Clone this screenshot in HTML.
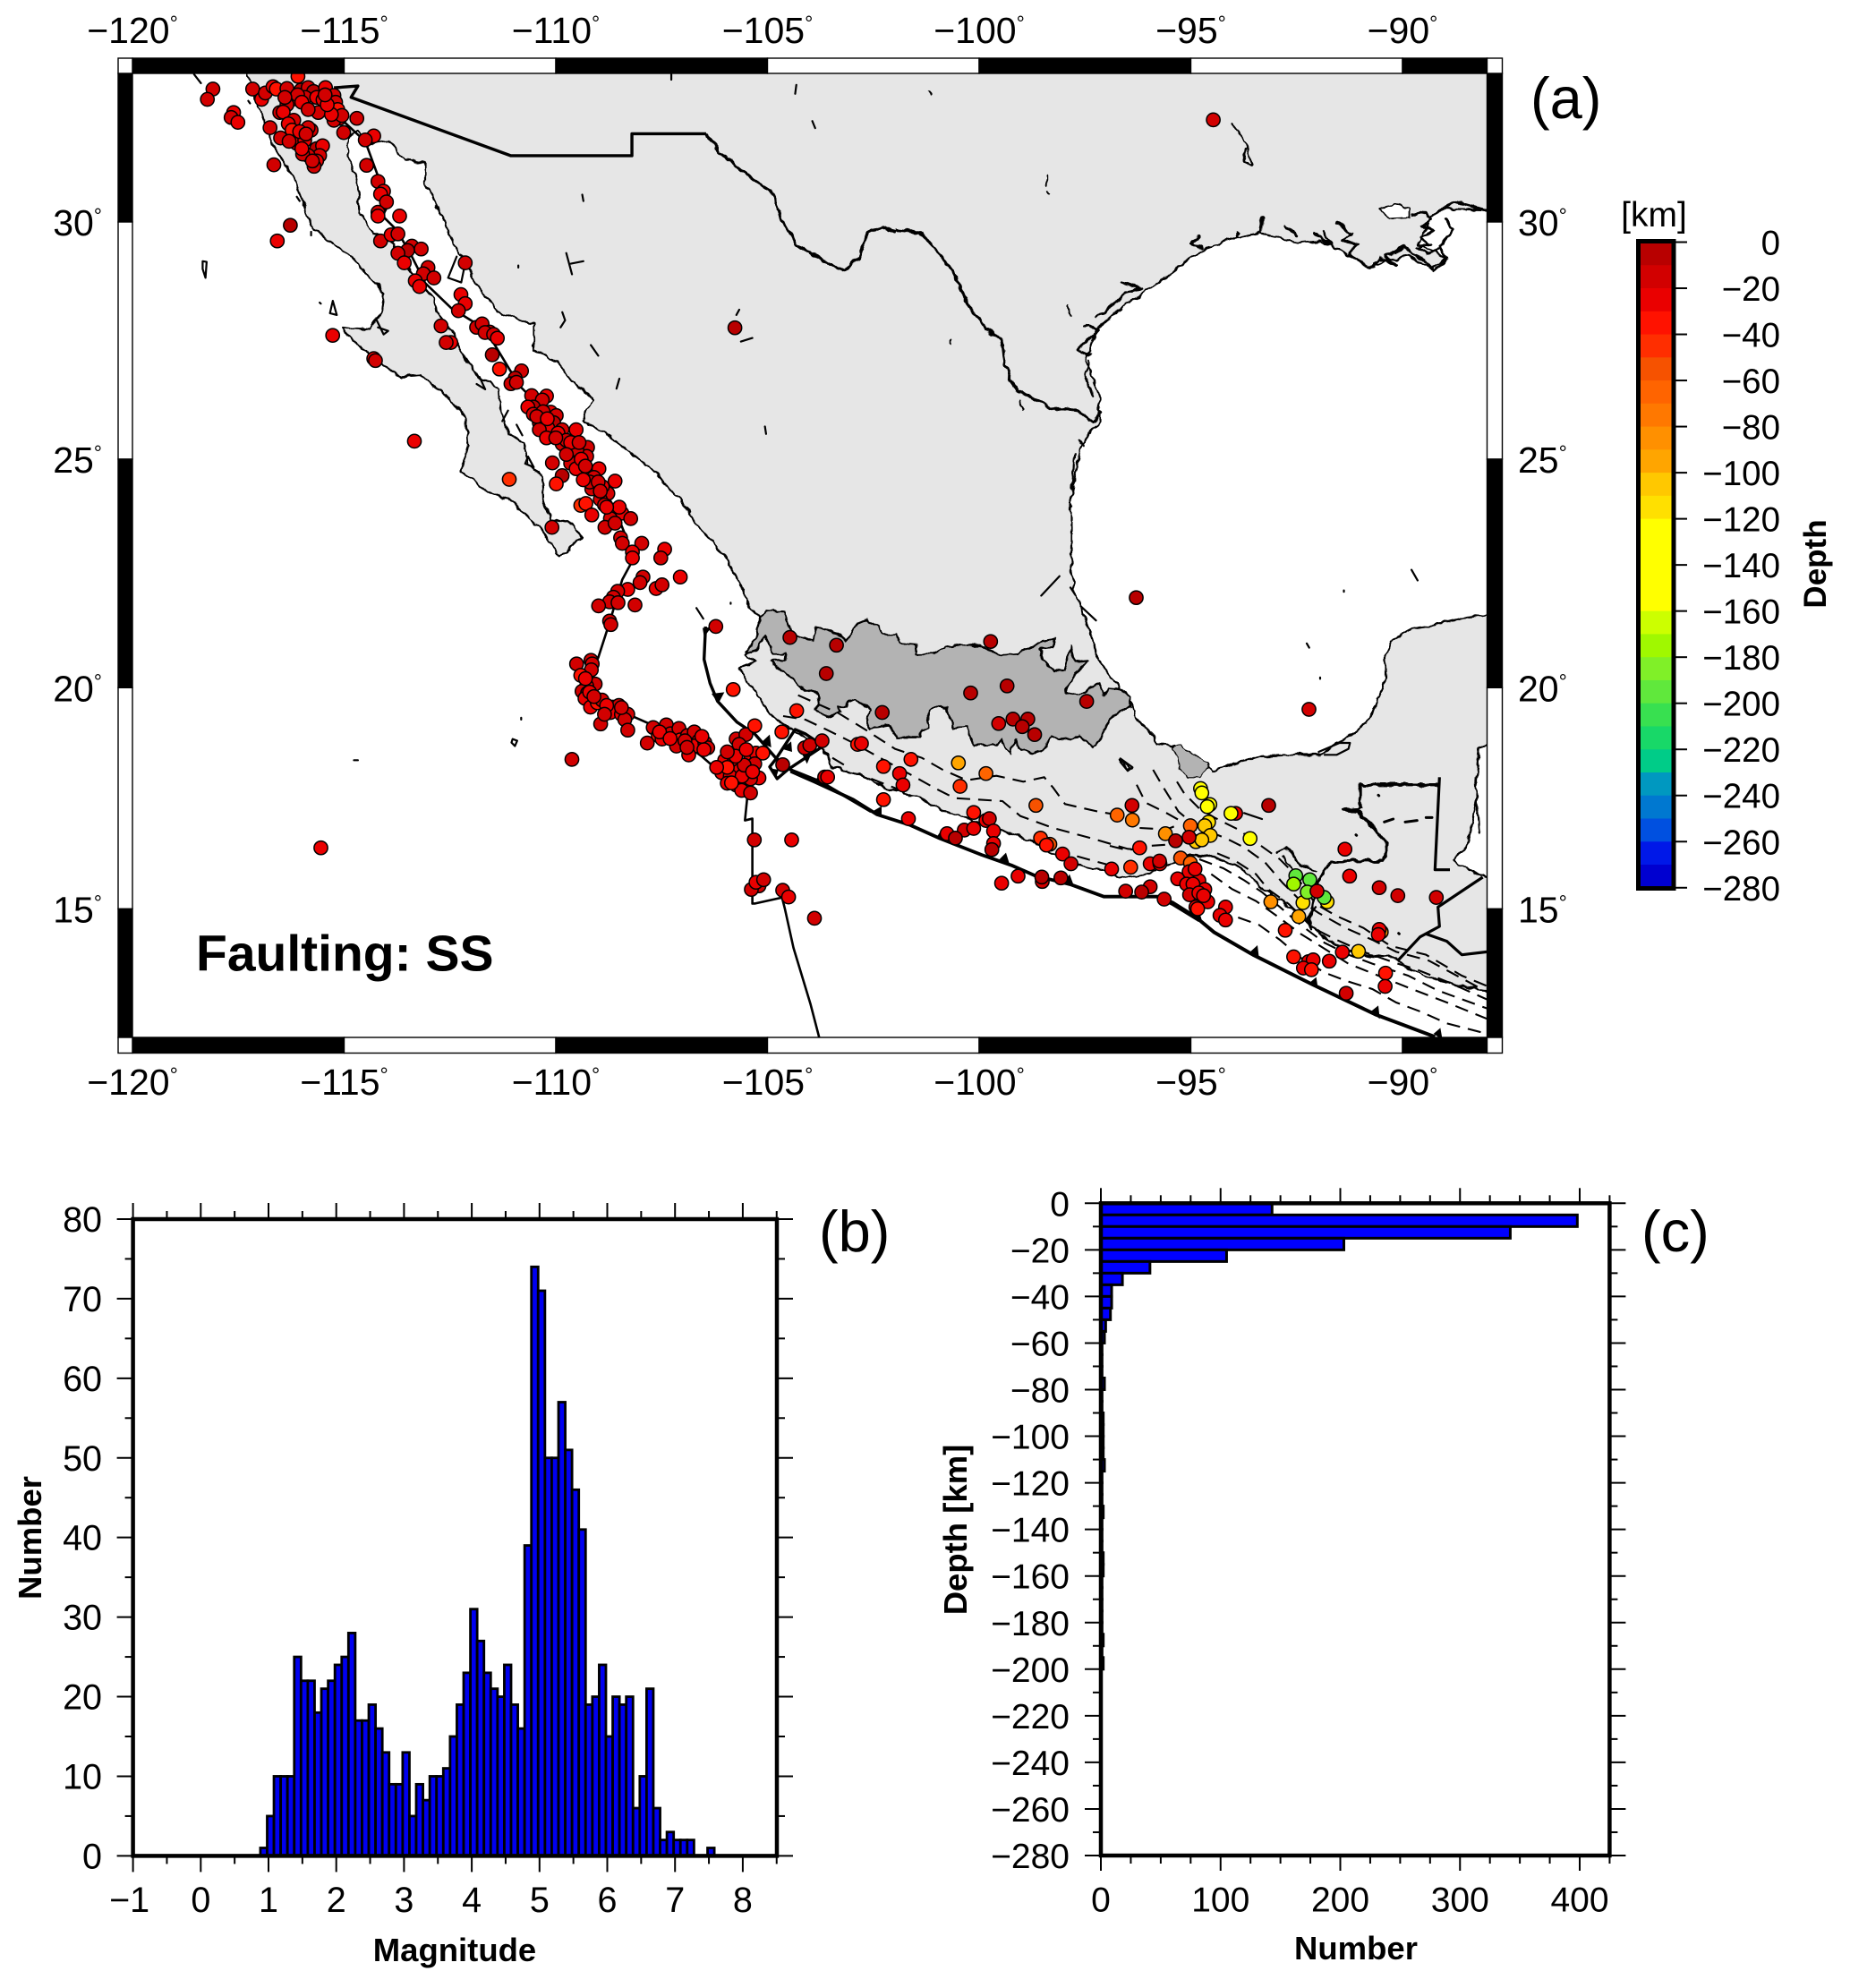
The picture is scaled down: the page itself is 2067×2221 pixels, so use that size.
<!DOCTYPE html>
<html><head><meta charset="utf-8"><title>Seismicity map</title>
<style>
html,body{margin:0;padding:0;background:#fff}
svg{display:block}
text{font-family:"Liberation Sans",sans-serif;fill:#000}
.ns{vector-effect:non-scaling-stroke}
.coast{fill:none;stroke:#000;stroke-width:2.2;stroke-linejoin:round;stroke-linecap:round;vector-effect:non-scaling-stroke}
.plate{fill:none;stroke:#000;stroke-width:3.4;stroke-linejoin:round;vector-effect:non-scaling-stroke}
.thin{fill:none;stroke:#000;stroke-width:2.6;stroke-linejoin:round;vector-effect:non-scaling-stroke}
.slab{fill:none;stroke:#000;stroke-width:2.1;stroke-dasharray:15 9;vector-effect:non-scaling-stroke}
.blob{fill:none;stroke:#000;stroke-width:3;stroke-linecap:round;stroke-linejoin:round;vector-effect:non-scaling-stroke}
.lake{fill:#fff;stroke:#000;stroke-width:1.8;vector-effect:non-scaling-stroke}
</style></head>
<body>
<svg id="figure" xmlns="http://www.w3.org/2000/svg" width="2067" height="2221" viewBox="0 0 2067 2221">
<defs>
<clipPath id="mapClip"><rect x="148" y="82" width="1513.5" height="1077"/></clipPath>
<filter id="rough" x="0" y="0" width="2067" height="1300" filterUnits="userSpaceOnUse" primitiveUnits="userSpaceOnUse">
<feTurbulence type="fractalNoise" baseFrequency="0.09" numOctaves="2" seed="4" result="n"/>
<feDisplacementMap in="SourceGraphic" in2="n" scale="7" xChannelSelector="R" yChannelSelector="G"/>
</filter>
</defs>
<rect x="0" y="0" width="2067" height="2221" fill="#fff"/>
<g id="mapBase" clip-path="url(#mapClip)">
<g filter="url(#rough)">
<polygon class="coast" style="fill:#e6e6e6" points="275,70 277,83 287,115 295,132 305,162 325,194 337,221 348,253 363,267 389,283 408,304 429,328 426,348 414,368 383,366 395,382 418,399 446,421 469,419 504,447 520,467 523,498 515,526 542,548 568,557 603,589 625,622 649,601 638,585 615,579 606,559 605,534 590,518 585,494 568,484 560,461 558,435 534,421 522,403 510,380 488,348 485,334 459,304 434,265 418,261 402,237 399,202 389,174 390,154 399,146 408,162 434,158 453,178 475,182 475,206 491,237 510,277 529,312 555,348 596,362 596,391 622,403 638,425 663,447 650,470 676,484 721,518 759,557 784,593 810,620 829,656 837,680 848,688 847,710 840,725 832,732 843,738 825,747 837,763 860,797 873,808 887,817 920,837 930,857 960,865 993,882 1027,891 1053,905 1087,917 1120,927 1153,940 1170,950 1203,967 1233,972 1257,982 1277,978 1297,970 1330,955 1357,957 1387,970 1407,990 1440,1013 1467,1037 1487,1053 1507,1062 1530,1067 1557,1070 1580,1085 1607,1095 1637,1102 1675,1110 1675,685 1640,690 1612,697 1578,703 1555,715 1548,731 1548,758 1541,778 1531,802 1507,824 1493,830 1476,843 1449,843 1408,845 1381,853 1354,861 1340,849 1313,834 1293,830 1289,822 1269,802 1265,786 1245,762 1228,737 1218,707 1211,687 1201,663 1197,640 1197,554 1208,498 1228,470 1228,443 1214,403 1225,368 1252,344 1299,312 1333,285 1367,269 1408,260 1449,271 1476,269 1510,287 1531,298 1572,285 1599,300 1616,289 1585,273 1599,241 1612,233 1675,235 1675,70"/>
<g transform="translate(760,660) scale(.33333)"><polygon class="coast" style="fill:#b3b3b3" points="265,85 290,65 350,70 370,130 400,155 445,165 455,120 490,130 560,165 595,105 630,95 665,120 680,145 725,145 740,175 790,180 790,210 850,210 890,190 950,180 1020,190 1075,215 1130,210 1180,190 1215,165 1255,160 1250,190 1210,195 1215,230 1250,270 1290,270 1310,185 1320,240 1365,235 1300,310 1295,345 1360,340 1400,310 1420,350 1440,325 1480,330 1510,360 1510,390 1450,420 1420,465 1410,495 1385,525 1340,490 1270,500 1240,485 1220,530 1180,545 1130,530 1125,495 1105,550 1075,500 1060,515 985,520 965,485 965,455 915,460 895,395 870,385 835,400 835,460 810,470 805,490 725,490 700,450 640,460 625,440 640,400 590,365 560,375 555,390 530,390 535,410 490,420 450,395 465,380 460,345 420,335 395,310 350,270 310,245 305,235 350,235 355,210 315,210 285,150 265,190 240,205 220,205 260,150"/></g>
<g transform="translate(1240,780) scale(.33333)">
<polygon class="coast" style="fill:#b3b3b3;stroke-width:1.2" points="210,165 240,160 265,180 330,220 300,265 260,265 235,235 225,195"/>
<polygon class="coast" style="fill:#fff" points="1290,135 1240,170 1225,280 1228,350 1215,420 1195,500 1150,540 1170,560 1260,600 1290,605"/>
<path class="coast" d="M560,520 L590,500 L620,530 L640,560 L690,580 M580,530 L610,570 M40,205 L75,235 L60,240 Z M1230,330 L1240,450"/>
</g>
<g transform="scale(.6378,.3954)">
<path class="plate" d="M1237,378 L1260,430 L1320,510 L1355,545 L1370,620 L1395,690 L1440,735 L1480,765 L1505,725 L1520,660 L1545,640 L1568,655"/>
</g>
<g transform="translate(1000,0) scale(.6805,.3954)">
<path class="thin" style="stroke-width:3.2" d="M0,650 L40,655 L65,700 L95,770 L120,860 L150,930 L175,960 L180,1030 L200,1105 L260,1155 L300,1160 L325,1190 L338,1160"/>
<polygon class="lake" points="795,590 820,575 845,590 845,615 810,618"/>
<path class="blob" d="M850,610 L870,600 L880,620 L865,640 L885,650 L862,670 L880,690 L858,700 L875,720 L895,700 L905,735 L885,765 L870,735 L850,720 L835,695 L820,715 L805,725 L820,745 L795,730 L785,755 L765,745 L745,715 L760,690 L735,680 L750,660 L725,630 M880,610 L900,590 L920,570 L972,595 M905,620 L915,650 L895,695 M640,635 L660,665 M690,660 L715,690 L705,655 M565,655 L562,668 M603,615 L600,655 M500,665 L485,690 L505,700 M375,800 L405,815 L380,825 L370,840 L345,880 L330,895 M310,920 L335,930 L315,965 L300,990 L320,1005"/>
<path class="coast" d="M55,262 L58,268 M250,498 L250,522 M252,542 L255,550 M285,865 L288,892 M93,962 L93,972 M205,1130 L210,1155 M552,348 L575,400 L585,465 L572,460 L575,420 M320,1020 L312,1060 L325,1120 M300,1240 L310,1260 M295,1280 L290,1400"/>
</g>
<g transform="translate(1240,780) scale(.33333)">
<path class="thin" style="stroke-width:3.4" d="M670,770 L680,690 L695,620 L740,545 L920,545 L930,490 L880,430 L830,380 L780,375 L840,370 L840,290 L1100,290"/>
</g>
</g>
<g transform="translate(1240,780) scale(.33333)">
<path class="thin" style="stroke-width:3.2" d="M1105,265 L1090,575 L1140,575"/>
<path class="thin" style="stroke-width:3.2" d="M1250,600 L1115,690 L1100,700 L1105,765 L1040,800 L965,880 M1060,790 L1130,815 L1180,860 L1265,850"/>
<path class="blob" d="M920,415 L950,405 M990,415 L1030,410 M1060,400 L1080,400 M900,325 L902,327 M825,458 L827,460 M968,788 L970,790"/>
<path class="coast" d="M700,180 L770,150 L805,150 L800,170 L760,190 L720,190"/>
</g>
<g transform="scale(.6378,.3954)">
<path class="plate" d="M585,248 L627,243 L615,275 L895,440 L1107,440 L1107,378 L1237,378"/>
<path class="thin" d="M600,340 L640,400 L665,510 L680,580 L670,610 L695,650 L720,720 L745,800 L790,870 L850,930 L880,1010 L910,1090 L960,1170 L1000,1250 L1040,1340 L1075,1430 L1100,1530"/>
<path class="coast" d="M340,210 L352,235 M355,738 L362,740 L360,785 L355,760 Z M560,855 L562,858 M583,850 L590,890 L578,885 Z M660,905 L672,945 L680,935 L662,925 M1020,550 L1022,568 M992,715 L1002,775 M1000,745 L1022,738 M908,750 L908,756 M985,882 L990,905 L982,925 M1035,975 L1048,1005 M1085,1070 L1080,1098 M1295,875 L1290,890 M1298,965 L1318,955 M1395,240 L1393,265 M1423,342 L1428,362 M1176,210 L1176,225 M1340,1205 L1342,1226 M435,285 L438,292 M520,556 L525,568 M545,655 L545,665 M800,725 L785,785 L808,798 L815,743"/>
<path class="coast" d="M840,1065 L850,1100 L835,1085 M905,1200 L915,1230 M925,1290 L935,1320 L920,1310 Z M890,1160 L880,1190"/>
</g>
<g transform="translate(0,620) scale(.6378,.3954)">
<path class="thin" d="M1110,10 L1090,70 L1068,190 L1048,290 L1040,320 L1030,350 L1040,380 L1100,450 L1170,500 L1230,570 L1280,640 L1310,670 L1305,750 L1318,745 L1318,985 L1322,985 L1370,968 L1375,1000 L1390,1110 L1420,1270 L1435,1363"/>
<path class="coast" d="M1220,150 L1232,180 M1280,135 L1280,138 M913,460 L913,465 M898,520 L906,525 L902,540 L896,530 Z M620,580 L627,580"/>
</g>
<g transform="translate(1000,620) scale(.6805,.3954)">
<path class="coast" d="M848,42 L858,72 M737,100 L737,104 M698,346 L698,350 M676,250 L680,262 M270,60 L240,115 M288,92 L295,110 M305,145 L330,185"/>
<path class="coast" d="M370,575 L390,600 L382,610 L370,585 Z"/>
</g>
<g transform="translate(760,660) scale(.33333)">
<path class="plate" d="M85,120 L80,230 L100,310 L125,370 L190,440 L250,480 L320,560 L370,600 L470,640 L640,740"/>
<path class="plate" d="M320,565 L385,465 L420,480 L480,520 L360,600 L325,630 L300,590 Z"/>
<path class="slab" d="M395,350 L440,370 L530,410 L620,465 L720,530 L810,560 L880,600 L960,635 L1060,620 L1150,640 L1220,625 L1250,660 L1290,715 L1400,740 L1520,760"/>
<path class="slab" d="M345,420 L420,432 L500,470 L580,510 L670,560 L770,615 L860,665 L920,695 L1080,705 L1140,755 L1250,795 L1380,830 L1500,865 L1560,870"/>
<path class="slab" d="M510,560 L560,590 M640,630 L730,665"/>
<path d="M75,125 L105,122 L80,155 Z M105,345 L148,340 L128,378 Z M270,510 L300,482 L305,525 Z M340,530 L372,505 L375,540 Z M410,550 L440,545 L425,580 Z M300,595 L330,600 L320,630 Z M645,740 L675,725 L675,760 Z"/>
</g>
<g transform="translate(820,850) scale(.33333)">
<path class="plate" style="stroke-width:3.8" d="M190,35 L270,70 L400,130 L480,180 L590,215 L690,260 L830,315 L930,350 L1010,385 L1130,415 L1240,455 L1420,455 L1470,480 L1560,535"/>
<path d="M460,172 L495,152 L495,190 Z M680,255 L700,225 L705,270 Z M890,330 L912,308 L925,350 Z M1110,405 L1125,380 L1140,420 Z M265,68 L290,50 L295,80 Z"/>
<path class="slab" d="M1150,320 L1260,350"/>
</g>
<g transform="translate(1240,780) scale(.33333)">
<path class="plate" style="stroke-width:4" d="M160,665 L210,685 L290,735 L350,785 L480,860 L680,960 L890,1060 L1090,1135"/>
<path d="M275,730 L300,715 L310,750 Z M465,855 L495,828 L500,870 Z M668,955 L692,935 L698,975 Z M875,1050 L900,1030 L905,1075 Z M1085,1125 L1108,1105 L1115,1145 Z"/>
<path class="slab" d="M430,735 L500,760 L570,810 L640,870 L720,920 L800,950 L880,975 L960,1020 L1040,1050 L1130,1090 L1265,1125"/>
<path class="slab" d="M340,590 L410,640 L490,680 L560,730 L640,790 L720,840 L800,890 L900,930 L1000,970 L1130,1020 L1265,1075"/>
<path class="slab" d="M300,540 L380,570 L450,610 L510,650 L570,700 L640,760 L720,820 L800,860 L880,890 L1000,930 L1100,980 L1265,1040"/>
<path class="slab" d="M360,520 L420,545 L490,590 L530,640 L600,690 L680,770 L760,810 L850,850 L950,885 L1030,910 L1130,950 L1265,1010"/>
<path class="slab" d="M145,240 L180,300 L230,380 L290,430 L390,470 L450,500 L520,550 L580,620 L640,680 L700,720 L790,770 L880,810 L960,850 L1070,880 L1265,985"/>
<path class="slab" d="M225,280 L250,320 L300,370 L350,400 L430,440 L500,490 L570,540 L620,590 L690,690 L760,730 L850,770 L940,830 L1060,860 L1180,930 L1265,965"/>
<path class="slab" d="M90,290 L120,350 L190,385 L270,430 L340,470"/>
<path class="slab" d="M0,495 L60,510 L130,495 L210,490 M100,435 L190,440 L240,420"/>
<path class="blob" style="stroke-width:2.2" d="M690,700 L660,740 L675,775 M450,385 L510,405"/>
</g>
</g>
<g id="eqLayer" clip-path="url(#mapClip)"></g>
<g id="mapFrame"></g>
<g id="colorbar"></g>
<g id="panelB"></g>
<g id="panelC"></g>
<text x="219" y="1084.5" font-size="57" font-weight="bold">Faulting: SS</text>
<text x="1710" y="132" font-size="65">(a)</text>
<text x="915" y="1398" font-size="65">(b)</text>
<text x="1834" y="1398" font-size="65">(c)</text>
<text x="1848" y="253" font-size="39" text-anchor="middle">[km]</text>
<text font-size="35" font-weight="bold" text-anchor="middle" transform="translate(2040,630) rotate(-90)">Depth</text>
</svg>
<script>
// ---- Panel (a) data: epicentres ----
const eqLon=[
-118.10,-118.23,-117.61,-117.67,-117.51,-117.16,-116.95,-116.86,-116.68,-116.60,
-116.35,-116.09,-116.02,-115.85,-115.72,-115.44,-115.92,-116.23,-116.35,-116.52,
-116.44,-116.19,-116.32,-116.23,-116.75,-116.50,-116.12,-115.93,-115.78,-115.85,
-115.65,-115.51,-115.58,-115.85,-115.65,-115.71,-115.98,-115.61,-115.65,-115.24,
-115.31,-115.18,-115.11,-115.24,-115.01,-114.70,-114.30,-114.50,-116.66,-114.47,
-114.20,-114.07,-114.14,-114.00,-114.20,-114.20,-113.69,-116.27,-116.58,-114.14,
-113.89,-113.73,-113.40,-113.50,-113.18,-113.73,-113.58,-113.02,-113.13,-112.88,
-113.32,-113.22,-112.14,-112.24,-112.14,-112.30,-112.71,-111.87,-111.74,-111.56,
-111.67,-111.47,-111.38,-112.48,-112.59,-115.27,-114.30,-114.26,-111.50,-111.33,
-110.81,-110.96,-111.06,-110.93,-110.57,-110.22,-110.32,-110.53,-110.66,-110.53,
-110.12,-109.99,-110.39,-110.05,-110.19,-110.39,-109.85,-109.52,-110.22,-109.85,
-109.25,-109.65,-109.27,-110.08,-109.65,-109.52,-109.18,-108.98,-109.85,-108.60,
-109.99,-111.10,-113.34,-109.15,-108.77,-108.95,-109.41,-109.29,-109.15,-108.71,
-108.44,-108.23,-108.71,-108.84,-110.09,-108.47,-108.43,-107.97,-107.43,-108.19,
-108.19,-107.52,-107.06,-107.94,-108.01,-107.63,-107.49,-108.30,-108.54,-108.64,
-108.73,-108.53,-108.99,-108.13,-108.73,-108.70,-109.51,-109.17,-109.14,-109.16,
-109.41,-109.07,-109.27,-109.38,-109.25,-109.31,-109.18,-109.02,-108.91,-108.65,
-108.51,-108.71,-108.45,-108.30,-108.37,-108.30,-108.94,-107.70,-107.39,-107.58,
-107.49,-107.29,-107.09,-107.06,-107.15,-106.89,-106.73,-106.62,-106.73,-106.48,
-106.41,-106.86,-107.84,-109.62,-105.74,-105.51,-105.67,-105.30,-104.66,-105.81,
-105.40,-105.27,-105.11,-105.30,-106.01,-105.81,-105.67,-106.08,-105.88,-105.95,
-105.74,-105.50,-105.61,-105.40,-105.20,-105.40,-104.64,-104.12,-104.00,-103.71,
-104.31,-104.47,-103.37,-103.61,-106.22,-102.87,-102.78,-102.29,-102.26,-103.65,
-103.58,-102.26,-105.31,-104.43,-115.55,-105.20,-105.38,-105.27,-105.09,-104.64,
-104.50,-103.89,-96.29,-99.73,-99.34,-100.20,-97.46,-99.54,-99.20,-98.85,
-98.98,-98.69,-92.21,-101.61,-100.49,-99.84,-100.45,-101.88,-101.80,-98.66,
-96.39,-96.74,-96.38,-94.77,-94.74,-94.55,-94.61,-93.94,-94.05,-93.16,
-94.58,-94.67,-95.01,-94.54,-95.60,-95.36,-94.88,-94.74,-95.04,-93.60,
-100.13,-101.67,-99.84,-99.76,-99.66,-100.35,-100.13,-100.76,-100.56,-99.66,
-99.70,-98.55,-98.33,-98.41,-98.03,-97.83,-96.21,-96.87,-96.42,-95.96,
-95.73,-95.74,-95.24,-95.01,-95.04,-94.81,-95.31,-95.10,-94.95,-94.67,
-95.03,-94.81,-94.60,-94.88,-94.84,-94.18,-94.31,-94.18,-95.63,-95.96,
-96.16,-96.54,-98.07,-98.51,-98.52,-99.08,-99.47,-93.11,-92.45,-92.35,
-92.52,-92.19,-92.57,-92.25,-91.78,-91.85,-92.02,-91.36,-91.25,-90.55,
-90.11,-89.20,-90.50,-90.55,-90.57,-92.77,-91.04,-91.42,-91.73,-92.57,
-92.22,-92.11,-92.34,-92.15,-90.40,-90.41,-91.33,-94.47,-105.77,-116.10,
-115.50,-115.20,-115.15,-115.05,-115.30,-110.30,-109.95,-109.75,-109.50,-109.40,
-109.30,-109.10,-109.20,-108.90,-108.85,-108.50,-108.60,-109.20,-109.10,-108.80,
-108.45,-107.55,-106.95,-106.50,-105.95,-105.60,-105.85,-105.55,-105.75,-105.35,
-116.40,-116.00,-115.85,-116.05,-115.90,-116.30,-116.00,-115.75,-115.40,-115.45,
-110.45,-110.20,-110.00,-109.65,-109.45,-109.75,-109.35,-109.00,-108.80,-108.95,
-107.30,-106.90,-106.55,-106.20,-105.95,-105.50,-109.30,-108.85,-94.90,-94.70];
const eqLat=[
32.72,32.51,32.24,32.14,32.04,32.72,32.51,32.64,32.77,32.72,
32.73,32.98,32.70,32.75,32.67,32.75,32.55,32.51,32.40,32.24,
32.25,32.08,32.01,31.88,31.93,31.72,31.61,31.67,31.88,31.93,
31.50,31.56,31.36,31.36,31.25,31.14,31.39,32.24,32.55,32.59,
32.38,32.22,32.12,32.08,31.83,32.12,31.76,31.68,31.17,31.16,
30.83,30.63,30.57,30.41,30.20,30.12,30.12,29.93,29.60,29.60,
29.73,29.75,29.49,29.40,29.43,29.34,29.14,29.04,28.91,28.82,
28.76,28.64,29.14,28.47,28.28,28.13,27.81,27.78,27.85,27.68,
27.67,27.63,27.55,27.46,27.46,27.61,27.12,27.08,27.20,26.90,
26.86,26.71,26.59,26.62,26.34,26.33,26.25,26.10,26.10,25.95,
25.99,25.92,25.77,25.77,25.66,25.62,25.62,25.62,25.45,25.32,
25.25,25.06,25.06,24.92,24.91,24.79,24.71,24.79,24.64,24.52,
24.46,24.56,25.38,24.35,24.25,24.12,23.99,24.03,23.78,23.88,
23.82,23.70,23.70,23.51,23.51,23.28,23.16,23.16,23.03,22.97,
22.84,22.84,22.42,22.42,22.30,22.17,22.25,22.15,22.11,21.98,
21.88,21.86,21.79,21.81,21.46,21.38,20.52,20.60,20.52,20.39,
20.27,20.08,20.04,19.92,19.88,19.76,19.56,19.66,19.72,19.56,
19.60,19.44,19.40,19.40,19.28,19.04,19.18,19.10,19.16,18.92,
18.84,18.96,19.08,18.82,18.68,18.92,19.00,18.80,18.68,18.76,
18.64,18.48,18.75,18.38,18.84,18.94,18.72,19.14,19.00,19.96,
18.48,18.52,18.52,18.28,18.36,18.28,18.12,18.08,18.00,17.84,
17.80,17.82,17.68,17.62,17.96,17.94,18.26,18.64,18.70,18.80,
19.48,21.10,20.93,20.31,21.34,18.72,18.74,19.44,18.22,17.98,
17.98,17.47,16.56,16.56,16.38,15.52,15.44,15.60,15.66,15.42,
15.27,14.78,21.97,21.01,20.04,19.88,19.69,19.19,19.29,19.29,
19.12,18.94,19.51,18.38,18.30,18.06,17.77,18.06,17.80,17.34,
17.34,17.12,17.01,17.72,17.62,17.36,17.31,17.16,17.16,17.34,
16.96,16.88,16.88,16.66,16.70,16.54,16.52,16.56,16.62,16.59,
17.18,17.04,17.00,17.04,16.76,16.78,16.82,16.70,16.60,16.48,
16.34,16.60,16.46,16.44,16.24,16.02,16.38,15.90,15.94,16.02,
16.02,16.08,16.15,16.04,15.84,15.64,15.68,15.56,15.56,15.44,
15.32,15.36,15.16,15.04,15.00,15.04,14.85,14.74,15.22,15.50,
15.38,15.40,15.70,15.62,15.72,15.74,15.58,15.16,14.82,15.14,
15.75,15.66,15.56,15.38,15.16,15.26,15.40,16.35,15.74,15.48,
15.30,15.26,14.46,14.52,14.40,14.50,14.01,13.99,13.78,13.88,
13.77,13.81,13.62,13.58,13.50,13.19,13.03,32.09,27.77,32.60,
32.50,32.45,32.30,32.18,32.20,26.00,25.55,25.40,25.20,25.00,
24.85,24.60,24.50,24.40,24.00,23.95,23.60,19.90,19.80,19.60,
19.55,19.00,18.80,18.60,18.20,18.00,17.85,18.25,18.45,18.10,
32.55,32.45,32.30,31.85,31.80,31.65,31.50,31.25,32.40,32.60,
25.90,25.85,25.45,25.35,25.35,25.10,24.55,24.50,23.95,24.30,
18.85,18.65,18.90,18.20,18.55,18.60,20.20,19.40,15.90,15.30];
const eqDepth=[
-15,-15,-25,-15,-25,-15,-25,-15,-25,-32,
-15,-35,-8,-15,-8,-25,-15,-25,-15,-15,
-25,-15,-25,-32,-15,-15,-15,-25,-15,-15,
-8,-25,-15,-15,-25,-15,-15,-15,-25,-15,
-8,-32,-15,-15,-15,-15,-25,-15,-15,-15,
-15,-25,-25,-15,-15,-25,-25,-8,-25,-15,
-25,-15,-15,-8,-15,-15,-25,-15,-15,-15,
-25,-25,-15,-25,-25,-15,-15,-15,-15,-25,
-15,-15,-25,-25,-15,-25,-25,-15,-8,-32,
-15,-8,-15,-15,-15,-25,-15,-8,-25,-15,
-25,-15,-15,-8,-25,-15,-15,-25,-25,-15,
-15,-25,-15,-15,-15,-25,-15,-25,-8,-25,
-35,-45,-25,-15,-15,-15,-40,-35,-25,-15,
-25,-15,-15,-15,-15,-15,-15,-15,-25,-25,
-25,-15,-25,-15,-15,-25,-15,-25,-15,-15,
-15,-15,-15,-15,-15,-15,-15,-15,-15,-15,
-32,-15,-25,-15,-5,-25,-25,-32,-15,-15,
-15,-25,-25,-15,-15,-15,-15,-15,-15,-32,
-25,-15,-15,-32,-15,-15,-15,-15,-25,-15,
-15,-25,-15,-15,-15,-15,-15,-32,-32,-35,
-25,-25,-32,-15,-25,-25,-25,-25,-25,-25,
-25,-15,-25,-15,-25,-15,-5,-15,-15,-15,
-32,-8,-8,-8,-15,-32,-25,-8,-35,-15,
-25,-32,-15,-25,-25,-15,-15,-25,-15,-15,
-25,-15,-8,-8,-8,-8,-8,-15,-8,-8,
-8,-8,-15,-38,-95,-65,-45,-25,-25,-58,
-15,-68,-75,-125,-125,-125,-125,-25,-125,-8,
-115,-105,-62,-100,-80,-8,-100,-105,-15,-125,
-38,-25,-25,-15,-25,-15,-25,-25,-8,-25,
-8,-45,-55,-32,-25,-15,-38,-28,-42,-25,
-25,-15,-52,-62,-25,-25,-25,-25,-25,-25,
-15,-25,-25,-25,-32,-25,-25,-25,-15,-15,
-8,-15,-8,-15,-8,-25,-25,-85,-95,-112,
-195,-190,-172,-185,-115,-195,-15,-25,-25,-15,
-15,-15,-85,-25,-25,-35,-105,-25,-25,-35,
-25,-25,-25,-32,-38,-25,-15,-15,-8,-15,
-25,-15,-32,-15,-25,-15,-25,-15,-15,-25,
-15,-15,-15,-25,-15,-25,-15,-25,-15,-25,
-15,-25,-15,-25,-32,-25,-32,-15,-25,-25,
-15,-25,-15,-25,-15,-15,-25,-15,-25,-15,
-15,-25,-15,-25,-15,-15,-25,-15,-25,-15,
-25,-15,-25,-25,-15,-25,-25,-15,-25,-25];
// ---- Panel (a) axes and colour scale ----
const lonTicks=[-120,-115,-110,-105,-100,-95,-90];
const latTicks=[30,25,20,15];
const depthTicks=[0,-20,-40,-60,-80,-100,-120,-140,-160,-180,-200,-220,-240,-260,-280];
const depthPalette=["#b80000","#d20000","#ea0000","#ff1200","#ff2e00","#f65200","#ff6400","#ff7800","#ff9000","#ffa500","#ffc800","#ffe000","#ffff00","#ffff00","#ffff00","#ffff00","#ccff00","#a0f800","#80f028","#60e83c","#38e050","#18d868","#00cc88","#0098c0","#0078d0","#0050e0","#0018e8","#0000d0"];
// ---- Panel (b) data ----
const magBins=[0.9,1.0,1.1,1.2,1.3,1.4,1.5,1.6,1.7,1.8,1.9,2.0,2.1,2.2,2.3,2.4,2.5,2.6,2.7,2.8,2.9,3.0,3.1,3.2,3.3,3.4,3.5,3.6,3.7,3.8,3.9,4.0,4.1,4.2,4.3,4.4,4.5,4.6,4.7,4.8,4.9,5.0,5.1,5.2,5.3,5.4,5.5,5.6,5.7,5.8,5.9,6.0,6.1,6.2,6.3,6.4,6.5,6.6,6.7,6.8,6.9,7.0,7.1,7.2,7.3,7.4,7.5];
const magCounts=[1,5,10,10,10,25,22,22,18,21,22,24,25,28,17,17,19,16,13,9,9,13,5,9,7,10,10,11,15,19,23,31,27,23,21,20,24,19,16,39,74,71,50,50,57,51,46,41,19,20,24,15,20,19,20,6,10,21,6,2,3,2,2,2,0,0,1];
const magTickLabels=[-1,0,1,2,3,4,5,6,7,8];
const numberTickLabels=[0,10,20,30,40,50,60,70,80];
// ---- Panel (c) data ----
const depthBins=[0,-5,-10,-15,-20,-25,-30,-35,-40,-45,-50,-55,-60,-65,-70,-75,-80,-85,-90,-95,-100,-105,-110,-115,-120,-125,-130,-135,-140,-145,-150,-155,-160,-165,-170,-175,-180,-185,-190,-195];
const depthCounts=[143,398,342,203,105,41,18,9,9,8,4,3,1,1,1,3,1,1,2,2,2,2,3,1,1,1,2,1,1,1,2,2,1,1,1,1,1,2,1,2];
const countTickLabels=[0,100,200,300,400];
const depthAxisLabels=[0,-20,-40,-60,-80,-100,-120,-140,-160,-180,-200,-220,-240,-260,-280];

const NS="http://www.w3.org/2000/svg";
function mk(parent,tag,attrs){
  const e=document.createElementNS(NS,tag);
  for(const k in attrs)e.setAttribute(k,attrs[k]);
  parent.appendChild(e);
  return e;
}
function fmt(v){return String(v).replace('-','\u2212');}
// axis functions for the map
function lonX(lon){return 148+(lon+120)*47.3;}
function latY(lat){
  const kn=[33,30,25,20,15,12],py=[84.2,248,513,768.3,1015.4,1159];
  for(let i=0;i<kn.length-1;i++){
    if(lat>=kn[i+1]||i===kn.length-2){
      return py[i]+(kn[i]-lat)/(kn[i]-kn[i+1])*(py[i+1]-py[i]);
    }
  }
}
function depthColor(d){
  const i=Math.max(0,Math.min(depthPalette.length-1,Math.floor(-d/10)));
  return depthPalette[i];
}
// earthquakes
const eqLayer=document.getElementById('eqLayer');
eqLon.forEach(function(lon,i){
  const c=mk(eqLayer,'circle',{cx:lonX(lon).toFixed(1),cy:latY(eqLat[i]).toFixed(1),r:7.6,fill:depthColor(eqDepth[i]),stroke:'#000','stroke-width':1.5});
  
  
});
// map frame
const mf=document.getElementById('mapFrame');
const frameBands=[-120,-115,-110,-105,-100,-95,-90,-88];
for(let i=0;i<frameBands.length-1;i++){
  const x1=lonX(frameBands[i]),x2=lonX(frameBands[i+1]);
  [[65,82],[1159,1176.5]].forEach(function(b){
    const r=mk(mf,'rect',{x:x1,y:b[0],width:x2-x1,height:b[1]-b[0],fill:i%2?'#fff':'#000',stroke:'#000','stroke-width':1.4});
    
    
  });
}
const latBands=[33,30,25,20,15,12];
for(let i=0;i<latBands.length-1;i++){
  const y1=i?latY(latBands[i]):82,y2=i===latBands.length-2?1159:latY(latBands[i+1]);
  [[132,148],[1661.5,1678.5]].forEach(function(b){
    const r=mk(mf,'rect',{x:b[0],y:y1,width:b[1]-b[0],height:y2-y1,fill:i%2?'#fff':'#000',stroke:'#000','stroke-width':1.4});
    
    
  });
}
[[132,65],[1661.5,65],[132,1159],[1661.5,1159]].forEach(function(p){
  const r=mk(mf,'rect',{x:p[0],y:p[1],width:p[0]<500?16:17,height:p[1]<500?17:17.5,fill:'#fff',stroke:'#000','stroke-width':1.4});
  
  
});
function degLabel(x,y,val,anchor,name){
  const t=mk(mf,'text',{x:x,y:y,'font-size':41,'text-anchor':anchor});
  
  
  t.appendChild(document.createTextNode(fmt(val)));
  const d=mk(t,'tspan',{'font-size':23,dy:-14});
  d.textContent='\u00b0';
}
lonTicks.forEach(function(v){
  degLabel(lonX(v),48,v,'middle','longitude-tick-label-top');
  degLabel(lonX(v),1223,v,'middle','longitude-tick-label-bottom');
});
latTicks.forEach(function(v){
  degLabel(114,latY(v)+15,v,'end','latitude-tick-label-left');
  degLabel(1696,latY(v)+15,v,'start','latitude-tick-label-right');
});
// colourbar
const cb=document.getElementById('colorbar');
function cbY(d){return 270.5+(-d)*2.576;}
depthPalette.forEach(function(col,i){
  const r=mk(cb,'rect',{x:1831,y:cbY(-i*10),width:40,height:cbY(-(i+1)*10)-cbY(-i*10)+0.5,fill:col});
  
  
});
const cbBox=mk(cb,'rect',{x:1830.5,y:269.5,width:39.5,height:723,fill:'none',stroke:'#000','stroke-width':5});


depthTicks.forEach(function(d){
  const l=mk(cb,'line',{x1:1870,x2:1885,y1:cbY(d),y2:cbY(d),stroke:'#000','stroke-width':2});
  
  
  const t=mk(cb,'text',{x:1989,y:cbY(d)+14,'font-size':38.5,'text-anchor':'end'});
  
  
  t.textContent=fmt(d);
});
// generic histogram frame helper
function drawLine(g,x1,y1,x2,y2,w,name){
  const l=mk(g,'line',{x1:x1,y1:y1,x2:x2,y2:y2,stroke:'#000','stroke-width':w});
  
  
  return l;
}
function drawText(g,x,y,s,size,anchor,name,extra){
  const t=mk(g,'text',Object.assign({x:x,y:y,'font-size':size,'text-anchor':anchor},extra||{}));
  
  
  t.textContent=s;
  return t;
}
// panel (b)
const pb=document.getElementById('panelB');
const bL=148.6,bR=868,bT=1362,bB=2073.4;
function bx(m){return bL+(m+1)*75.7;}
function by(n){return bB-n*8.893;}
magBins.forEach(function(m,i){
  const h=by(0)-by(magCounts[i]);
  const r=mk(pb,'rect',{x:bx(m-0.02),y:by(magCounts[i]),width:bx(m+0.08)-bx(m-0.02),height:h,fill:'#0000f0',stroke:'#000','stroke-width':2.8});
  
  
});
const bBox=mk(pb,'rect',{x:bL,y:bT,width:bR-bL,height:bB-bT,fill:'none',stroke:'#000','stroke-width':4.5});


for(let m=-1;m<=8.5;m+=0.5){
  const major=Number.isInteger(m);
  const len=major?18:9;
  drawLine(pb,bx(m),bB,bx(m),bB+len,2,'x-tick');
  drawLine(pb,bx(m),bT,bx(m),bT-len,2,'x-tick-top');
}
for(let n=0;n<=80;n+=5){
  const major=n%10===0;
  const len=major?18:9;
  drawLine(pb,bL,by(n),bL-len,by(n),2,'y-tick');
  drawLine(pb,bR,by(n),bR+len,by(n),2,'y-tick-right');
}
magTickLabels.forEach(function(m){drawText(pb,bx(m)-(m<0?4:0),2136,fmt(m),39.5,'middle','x-tick-label');});
numberTickLabels.forEach(function(n){drawText(pb,114,by(n)+14,String(n),39.5,'end','y-tick-label');});
drawText(pb,508,2191,'Magnitude',36.5,'middle','x-axis-title',{'font-weight':'bold'});
drawText(pb,0,0,'Number',36.5,'middle','y-axis-title',{'font-weight':'bold',transform:'translate(46,1718) rotate(-90)'});
// panel (c)
const pc=document.getElementById('panelC');
const cL=1230,cR=1798.4,cT=1344.3,cB=2073;
function cx(n){return cL+n*1.3375;}
function cy(d){return cT+(-d)*2.6025;}
depthBins.forEach(function(d,i){
  const r=mk(pc,'rect',{x:cx(0),y:cy(d),width:cx(depthCounts[i])-cx(0),height:cy(d-5)-cy(d),fill:'#0000ff',stroke:'#000','stroke-width':3});
  
  
});
const cBox=mk(pc,'rect',{x:cL,y:cT,width:cR-cL,height:cB-cT,fill:'none',stroke:'#000','stroke-width':4.5});


for(let n=0;n<=425;n+=25){
  const major=n%100===0;
  const len=major?17:9;
  drawLine(pc,cx(n),cB,cx(n),cB+len,2,'x-tick');
  drawLine(pc,cx(n),cT,cx(n),cT-len,2,'x-tick-top');
}
for(let d=0;d>=-280;d-=10){
  const major=d%20===0;
  const len=major?18:9;
  drawLine(pc,cL,cy(d),cL-len,cy(d),2,'y-tick');
  drawLine(pc,cR,cy(d),cR+len,cy(d),2,'y-tick-right');
}
countTickLabels.forEach(function(n){drawText(pc,cx(n),2135.5,String(n),39,'middle','x-tick-label');});
depthAxisLabels.forEach(function(d){drawText(pc,1195,cy(d)+14,fmt(d),39,'end','y-tick-label');});
drawText(pc,1515,2189,'Number',36.5,'middle','x-axis-title',{'font-weight':'bold'});
drawText(pc,0,0,'Depth [km]',36.5,'middle','y-axis-title',{'font-weight':'bold',transform:'translate(1080,1709) rotate(-90)'});
</script>
</body></html>
